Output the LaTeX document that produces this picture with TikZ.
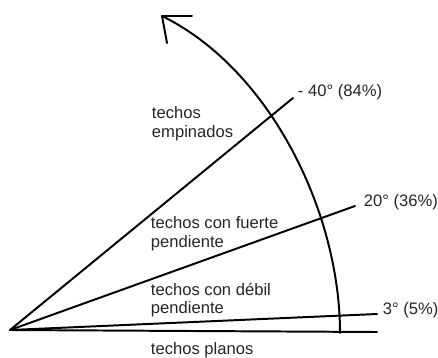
\documentclass[tikz,border=0pt]{standalone}
\usepackage{fontspec}
\setmainfont{Liberation Sans}
\usepackage{xcolor}
\usepackage{tikz}

\begin{document}
\begin{tikzpicture}[x=0.025cm, y=0.025cm, line width=1.4pt, line cap=round, line join=round,
  lbl/.style={anchor=west, inner sep=0pt, align=left, text=black!85,
    font=\fontsize{11.8}{13.3}\selectfont}]
  \useasboundingbox (0,0) rectangle (438,357);
  \coordinate (O) at (10,27);
  \coordinate (base) at (377,25);
  \coordinate (e3) at (377,43);
  \coordinate (e20) at (355,151);
  \coordinate (e40) at (293,259);
  \coordinate (foot) at (340,24);
  \coordinate (tip) at (162,341);
  % slope lines
  \draw (O) -- (base);
  \draw (O) -- (e3);
  \draw (O) -- (e20);
  \draw (O) -- (e40);
  % arc with open arrow head
  \draw (foot) .. controls (340,145) and (270,288) .. (tip);
  \draw (tip) -- ++(30,0);
  \draw (tip) -- ++(5,-27);
  % angle labels
  \node[lbl] (l40) at (297,265) {- 40° (84\%)};
  \node[lbl] (l20) at (363,155) {20° (36\%)};
  \node[lbl] (l3) at (382,47) {3° (5\%)};
  % roof types
  \node[lbl] (emp) at (151,233.5) {techos\\empinados};
  \node[lbl] (fue) at (150,123) {techos con fuerte\\pendiente};
  \node[lbl] (deb) at (150,57) {techos con débil\\pendiente};
  \node[lbl] (pla) at (150,7) {techos planos};
\end{tikzpicture}
\end{document}
